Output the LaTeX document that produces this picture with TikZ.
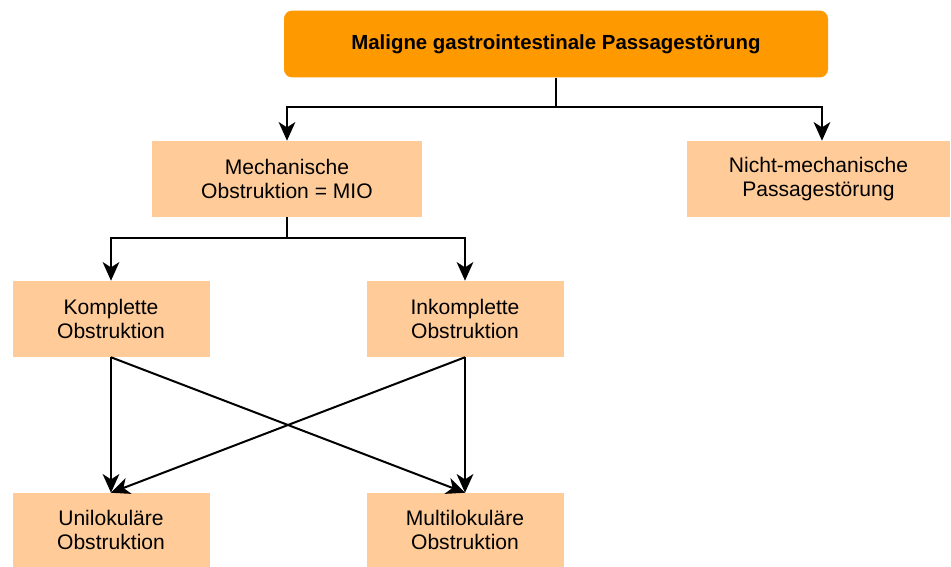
\documentclass[tikz,border=0pt]{standalone}
\usepackage{fontspec}
\setmainfont{Liberation Sans}
\usetikzlibrary{arrows.meta}
\definecolor{topfill}{HTML}{FF9900}
\definecolor{boxfill}{HTML}{FFCC99}
\tikzset{
    topbox/.style={fill=topfill, rounded corners=6pt, minimum width=408pt, minimum height=50pt,
        font=\bfseries\fontsize{15.3}{18}\selectfont, align=center, inner sep=0pt},
    catbox/.style={fill=boxfill, minimum height=57pt, align=center, inner sep=0pt,
        font=\fontsize{15.8}{18.2}\selectfont},
    arr/.style={-{Stealth[length=14pt, width=12.5pt, inset=4pt]}, line width=1.5pt},
}
\begin{document}
\begin{tikzpicture}[x=0.75pt, y=-0.75pt]
            \useasboundingbox (0,0) rectangle (951,567);
            \node[topbox] (root) at (556,44) {Maligne gastrointestinale Passagestörung};
            \node[catbox, minimum width=202.5pt] (mech) at (287,179) {Mechanische\\Obstruktion = MIO};
            \node[catbox, minimum width=197.25pt] (nonmech) at (818.5,179) {Nicht-mechanische\\Passagestörung};
            \node[catbox, minimum width=147.75pt] (compl) at (111,319) {Komplette\\Obstruktion};
            \node[catbox, minimum width=147.75pt] (incompl) at (465,319) {Inkomplette\\Obstruktion};
            \node[catbox, minimum width=147.75pt, minimum height=55.5pt] (uni) at (111,530) {Unilokuläre\\Obstruktion};
            \node[catbox, minimum width=147.75pt, minimum height=55.5pt] (multi) at (465,530) {Multilokuläre\\Obstruktion};
            \draw[arr] (root.south) -- ++(0,29.5) -| (mech.north);
            \draw[arr] (root.south) -- ++(0,29.5) -| ([xshift=2.6pt]nonmech.north);
            \draw[arr] (mech.south) -- ++(0,21) -| (compl.north);
            \draw[arr] (mech.south) -- ++(0,21) -| (incompl.north);
            \foreach \src in {compl,incompl}
                \foreach \dst in {uni,multi}
                    \draw[arr] (\src.south) -- (\dst.north);
        \end{tikzpicture}
\end{document}
